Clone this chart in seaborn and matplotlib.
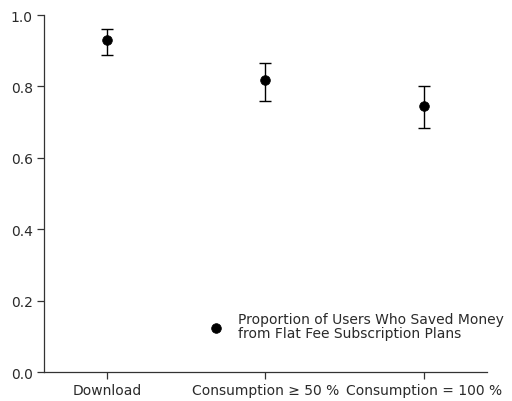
import numpy as np
import pandas as pd
import matplotlib
matplotlib.use('Agg')
import matplotlib.pyplot as plt
import seaborn as sns

# values
categories = ['Download', 'Consumption \u2265 50 %', 'Consumption = 100 %']
proportion = [0.930, 0.818, 0.746]
err_low = [0.887, 0.760, 0.683]
err_high = [0.960, 0.867, 0.802]
legend_label = 'Proportion of Users Who Saved Money\nfrom Flat Fee Subscription Plans'

df = pd.DataFrame({'category': categories, 'proportion': proportion})

sns.set_style('ticks')
plt.rcParams['font.family'] = ['DejaVu Sans']

fig = plt.figure(figsize=(5.12, 4.02), dpi=100)
ax = fig.add_axes([0.086, 0.072, 0.865, 0.888])

x = np.arange(len(categories))
yerr = [np.array(proportion) - np.array(err_low), np.array(err_high) - np.array(proportion)]
ax.errorbar(x, proportion, yerr=yerr, fmt='none', ecolor='black', elinewidth=1.0,
            capsize=4.5, capthick=1.0, zorder=2)
sns.scatterplot(x=x, y=df['proportion'], color='black', s=48, edgecolor='black',
                label=legend_label, ax=ax, zorder=3)

ax.set_xlim(-0.4, 2.4)
ax.set_ylim(0, 1.0)
ax.set_xticks(x)
ax.set_xticklabels(categories)
ax.set_yticks([0, 0.2, 0.4, 0.6, 0.8, 1.0])
ax.set_yticklabels(['0.0', '0.2', '0.4', '0.6', '0.8', '1.0'])
ax.set_xlabel('')
ax.set_ylabel('')
sns.despine(ax=ax)
for s in ['left', 'bottom']:
    ax.spines[s].set_color('#333333')
    ax.spines[s].set_linewidth(0.9)
ax.tick_params(axis='both', length=5, width=0.9, color='#333333', labelsize=10,
               labelcolor='#2a2a2a', pad=3)

leg = ax.legend(loc='upper left', bbox_to_anchor=(0.369, 0.168), frameon=False,
                fontsize=10, handletextpad=1.0, borderaxespad=0, borderpad=0,
                labelspacing=0, handlelength=1.2)
for t in leg.get_texts():
    t.set_linespacing(0.95)
    t.set_color('#2a2a2a')

fig.savefig('out.png', dpi=100)
